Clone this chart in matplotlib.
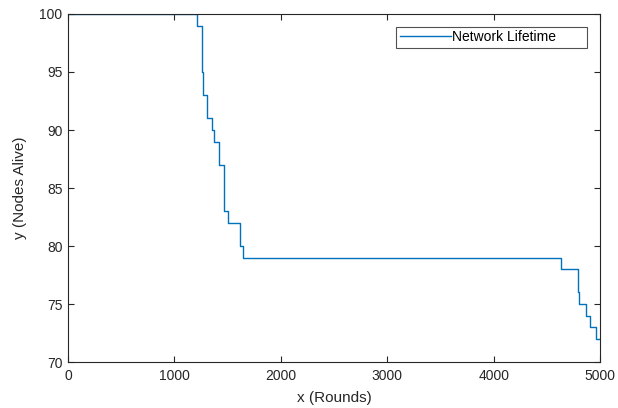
import matplotlib
matplotlib.use("Agg")
import matplotlib.pyplot as plt

plt.rcParams['font.family'] = ['Liberation Sans', 'DejaVu Sans']

# Round at which each change happens and the number of nodes alive afterwards
rounds = [0, 1210, 1262, 1264, 1266, 1268, 1303, 1350, 1372, 1419, 1466, 1470,
          1507, 1617, 1648, 4634, 4790, 4795, 4800, 4865, 4906, 4960, 5000]
alive = [100, 99, 97, 95, 94, 93, 91, 90, 89, 87, 85, 83,
         82, 80, 79, 78, 77, 76, 75, 74, 73, 72, 72]

xticks = [0, 1000, 2000, 3000, 4000, 5000]
yticks = [70, 75, 80, 85, 90, 95, 100]

fig = plt.figure(figsize=(6.18, 4.08), dpi=100)
ax = fig.add_axes([0.110, 0.1127, 0.861, 0.8530])

ax.step(rounds, alive, where='post', color='#0072BD', linewidth=1.0,
        label='Network Lifetime       ')

ax.set_xlim(0, 5000)
ax.set_ylim(70, 100)
ax.set_xticks(xticks)
ax.set_yticks(yticks)
ax.tick_params(direction='in', length=4, width=0.8, top=True, right=True,
               labelsize=10, colors='#262626')
ax.tick_params(axis='x', pad=5)
ax.tick_params(axis='y', pad=4)
for s in ax.spines.values():
    s.set_linewidth(0.8)
    s.set_color('#262626')

ax.set_xlabel('x (Rounds)', fontsize=11, color='#262626', labelpad=6)
ax.set_ylabel('y (Nodes Alive)', fontsize=11, color='#262626', labelpad=9)

leg = ax.legend(loc='upper right', fontsize=10, frameon=True, fancybox=False,
                edgecolor='#262626', borderpad=0.25, borderaxespad=0,
                handlelength=3.7, handletextpad=0.1,
                bbox_to_anchor=(0.9756, 0.963))
leg.get_frame().set_linewidth(0.8)

fig.savefig('out.png', dpi=100)
